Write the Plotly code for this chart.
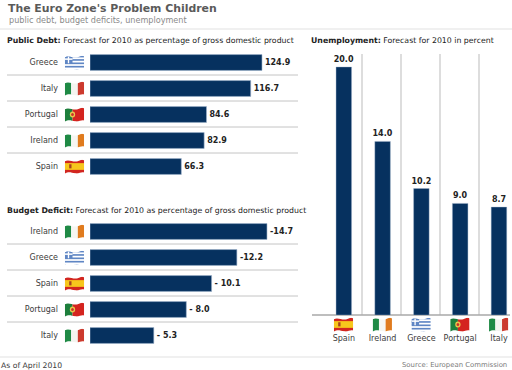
import base64
import plotly.graph_objects as go

debt_countries = ["Greece", "Italy", "Portugal", "Ireland", "Spain"]
debt_values = [124.9, 116.7, 84.6, 82.9, 66.3]
debt_labels = ["124.9", "116.7", "84.6", "82.9", "66.3"]
deficit_countries = ["Ireland", "Greece", "Spain", "Portugal", "Italy"]
deficit_values = [14.7, 12.2, 10.1, 8.0, 5.3]
deficit_labels = ["-14.7", "-12.2", "- 10.1", "- 8.0", "- 5.3"]
unemp_countries = ["Spain", "Ireland", "Greece", "Portugal", "Italy"]
unemp_values = [20.0, 14.0, 10.2, 9.0, 8.7]
unemp_labels = ["20.0", "14.0", "10.2", "9.0", "8.7"]

W, H = 512, 370
NAVY = "#06315f"
FONT = "DejaVu Sans"
TXT = "#3c3c3c"


def px(x):
    return x / W


def py(y):
    return 1 - y / H


CLIP = "M1,6 C14,0 26,10 40,6 S54,1 59,4 L59,36 C50,33 44,40 32,38 S12,32 1,39 Z"


def svg(body):
    s = ('<svg xmlns="http://www.w3.org/2000/svg" width="60" height="40" viewBox="0 0 60 40">'
         f'<defs><clipPath id="c"><path d="{CLIP}"/></clipPath></defs>'
         f'<g clip-path="url(#c)">{body}</g></svg>')
    return "data:image/svg+xml;base64," + base64.b64encode(s.encode()).decode()


def rect(x, y, w, h, c):
    return f'<rect x="{x}" y="{y}" width="{w}" height="{h}" fill="{c}"/>'


FLAGS = {
    "Greece": svg(rect(0, 0, 60, 40, "#ffffff")
                  + "".join(rect(0, y, 60, 4.4, "#5f86c4") for y in range(2, 40, 9))
                  + rect(0, 0, 24, 22, "#5f86c4") + rect(10, 0, 4, 22, "#fff") + rect(0, 9, 24, 4, "#fff")),
    "Italy": svg(rect(0, 0, 20, 40, "#1f8a45") + rect(20, 0, 20, 40, "#f4f4f0") + rect(40, 0, 20, 40, "#cc3a2e")),
    "Portugal": svg(rect(0, 0, 24, 40, "#1d7f3c") + rect(24, 0, 36, 40, "#d4241f")
                    + '<circle cx="24" cy="20" r="8" fill="#e8c64a"/><circle cx="24" cy="20" r="4" fill="#c9302a"/>'),
    "Ireland": svg(rect(0, 0, 20, 40, "#1f8a45") + rect(20, 0, 20, 40, "#f6f6f2") + rect(40, 0, 20, 40, "#e07b1e")),
    "Spain": svg(rect(0, 0, 60, 40, "#d2261f") + rect(0, 11, 60, 18, "#f7c71c")
                 + rect(14, 14, 7, 11, "#a8431f")),
}

fig = go.Figure()
VAL_FONT = dict(family=FONT, size=8, color="#222")


def hbar(cats, vals, labels, xa, ya):
    fig.add_trace(go.Bar(
        y=cats, x=vals, orientation="h", text=labels, textposition="outside",
        texttemplate="<b>%{text}</b>", cliponaxis=False, width=0.61, constraintext="none",
        textfont=VAL_FONT,
        marker=dict(color=NAVY, line=dict(color="#9fb4cc", width=0.6)),
        xaxis=xa, yaxis=ya, showlegend=False, hoverinfo="skip"))


hbar(debt_countries, debt_values, debt_labels, "x", "y")
hbar(deficit_countries, deficit_values, deficit_labels, "x2", "y2")
fig.add_trace(go.Bar(
    x=unemp_countries, y=unemp_values, text=unemp_labels, textposition="outside",
    texttemplate="<b>%{text}</b>", cliponaxis=False, width=0.4, constraintext="none",
    textfont=VAL_FONT,
    marker=dict(color=NAVY, line=dict(color="#9fb4cc", width=0.4)),
    xaxis="x3", yaxis="y3", showlegend=False, hoverinfo="skip"))

hidden = dict(visible=False, fixedrange=True)
cat_y = dict(autorange="reversed", showgrid=False, zeroline=False, showline=False, ticks="",
             ticklabelstandoff=31, tickfont=dict(family=FONT, size=8, color=TXT), fixedrange=True)
shapes, images, notes = [], [], []


def line(x0, y0, x1, y1, color, width=1):
    shapes.append(dict(type="line", xref="paper", yref="paper", x0=px(x0), x1=px(x1),
                       y0=py(y0), y1=py(y1), line=dict(color=color, width=width), layer="below"))


def flag(country, cx, cy):
    images.append(dict(source=FLAGS[country], xref="paper", yref="paper", x=px(cx - 10), y=py(cy - 7.5),
                       sizex=px(20), sizey=15 / H, xanchor="left", yanchor="top", sizing="stretch", layer="above"))


def note(x, y, text, size, color, anchor="left"):
    notes.append(dict(xref="paper", yref="paper", x=px(x), y=py(y), text=text, showarrow=False,
                      xanchor=anchor, yanchor="middle", align=anchor,
                      xshift=-2 if anchor == "left" else 2,
                      font=dict(family=FONT, size=size, color=color)))


for y in (75, 101, 127, 153, 244, 270, 296, 322):
    line(7, y, 298, y, "#c4c4c4")
for x in (362, 401, 440, 479):
    line(x, 54, x, 315, "#d2d2d2", 1.5)
line(312, 315, 510, 315, "#a8a8a8", 1.5)
line(0, 29, 512, 29, "#f0f0f0", 2)
line(0, 357, 512, 357, "#f0f0f0", 2)

for i, c in enumerate(debt_countries):
    flag(c, 74.5, 62.5 + 26 * i)
for i, c in enumerate(deficit_countries):
    flag(c, 74.5, 231.5 + 26 * i)
for i, c in enumerate(unemp_countries):
    flag(c, 343.5 + 38.8 * i, 324.5)

note(8, 8, "<b>The Euro Zone's Problem Children</b>", 10.9, "#5a5a5a")
note(9, 20, "public debt, budget deficits, unemployment", 8.1, "#8a8a8a")
note(7, 41, "<b>Public Debt:</b> Forecast for 2010 as percentage of gross domestic product", 7.8, "#222")
note(7, 210, "<b>Budget Deficit:</b> Forecast for 2010 as percentage of gross domestic product", 7.8, "#222")
note(311, 41, "<b>Unemployment:</b> Forecast for 2010 in percent", 7.8, "#222")
note(1, 365, "As of April 2010", 7.7, TXT)
note(507, 365, "Source: European Commission", 6.9, "#7a7a7a", "right")

fig.update_layout(
    width=W, height=H, margin=dict(l=0, r=0, t=0, b=0, pad=0), autosize=False,
    paper_bgcolor="white", plot_bgcolor="rgba(0,0,0,0)", showlegend=False,
    shapes=shapes, images=images, annotations=notes, barmode="overlay",
    xaxis=dict(domain=[px(90), px(300)], range=[0, 210 / 1.377], anchor="y", **hidden),
    yaxis=dict(domain=[py(179.5), py(49.5)], anchor="x", **cat_y),
    xaxis2=dict(domain=[px(90), px(300)], range=[0, 210 / 12.04], anchor="y2", **hidden),
    yaxis2=dict(domain=[py(348.5), py(218.5)], anchor="x2", **cat_y),
    xaxis3=dict(domain=[px(324.4), px(510.6)], range=[-0.5, 4.3], anchor="y3", showgrid=False, zeroline=False,
                showline=False, ticks="", ticklabelstandoff=17, tickangle=0,
                tickfont=dict(family=FONT, size=8, color=TXT), fixedrange=True),
    yaxis3=dict(domain=[py(315), py(54)], range=[0, 261 / 12.4], anchor="x3", **hidden),
)
fig.write_html("out.html", config=dict(displayModeBar=False),
               post_script="document.body.style.margin='0';document.documentElement.style.overflow='hidden';")
